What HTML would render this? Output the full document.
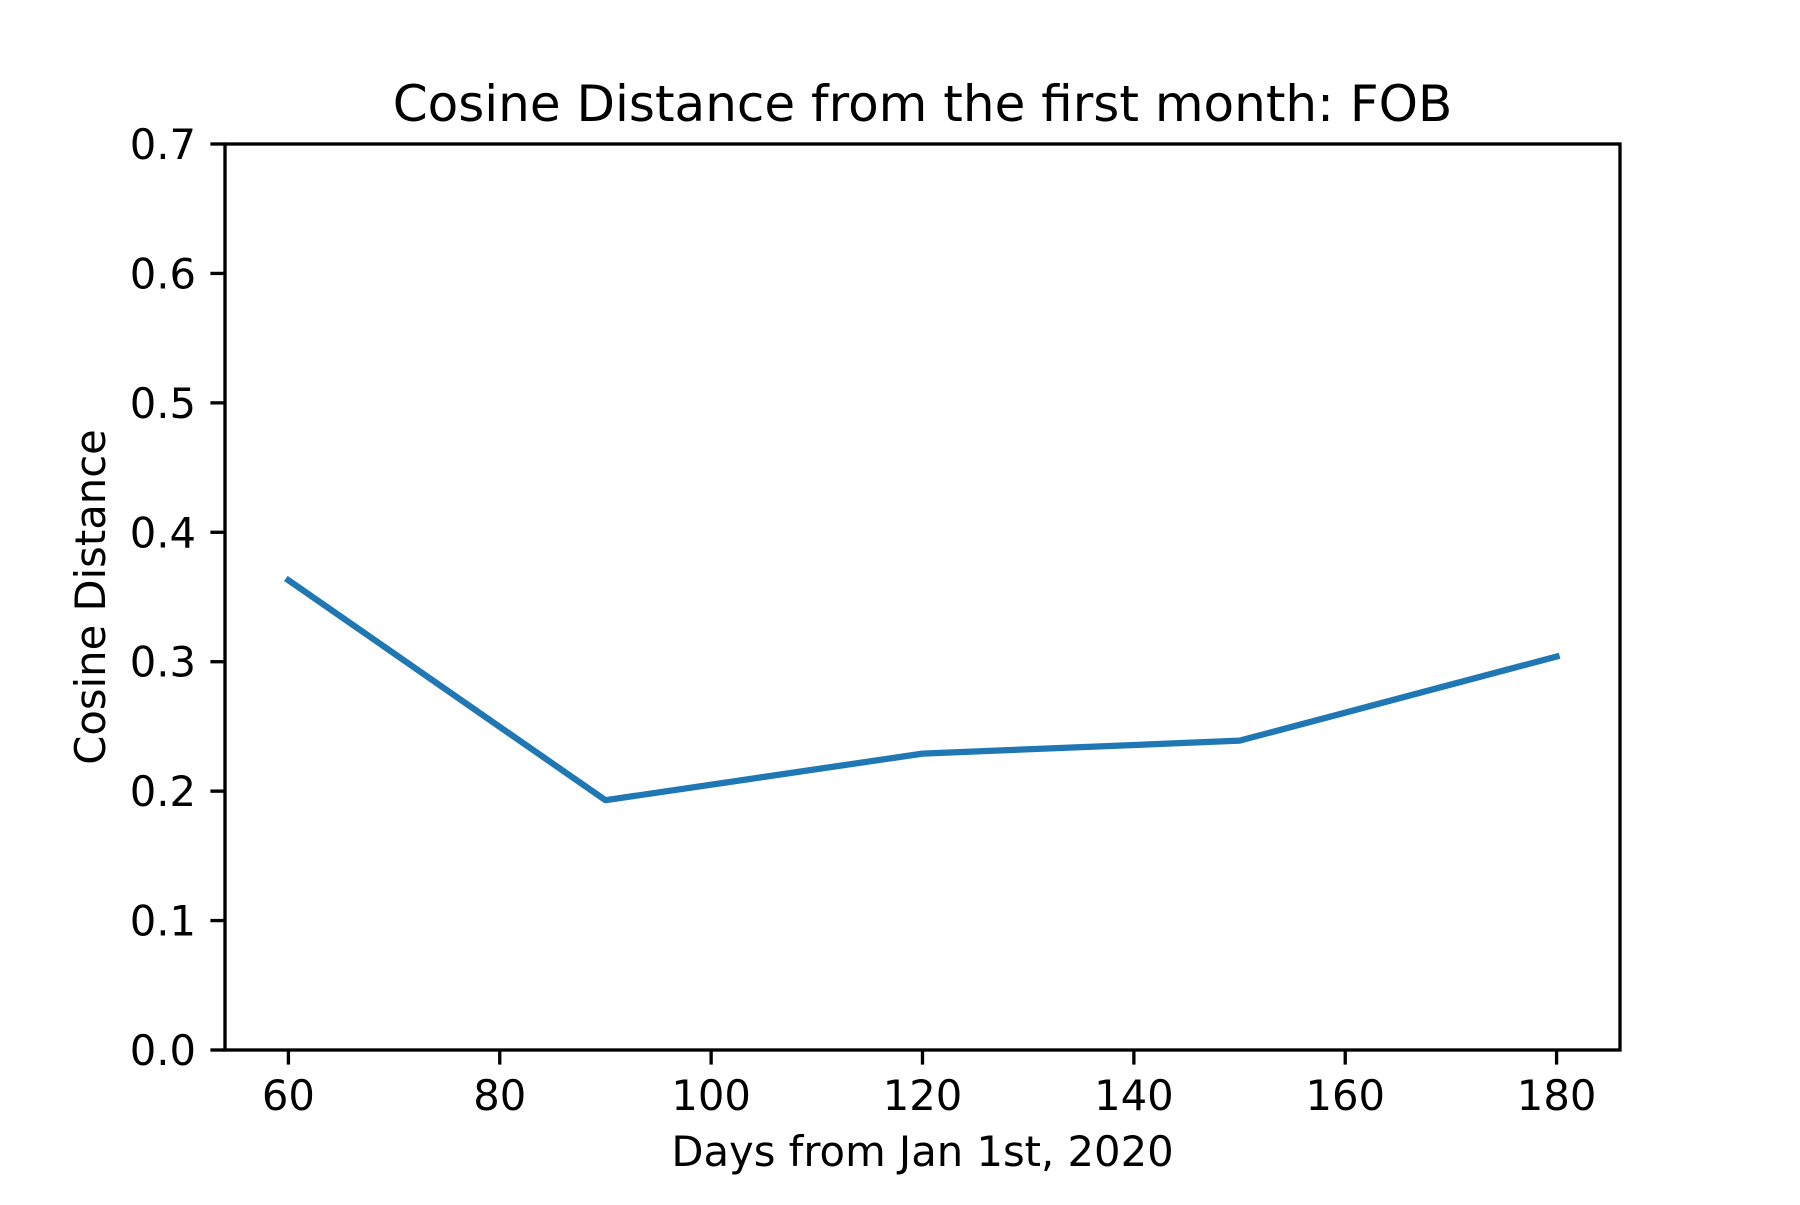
<!DOCTYPE html>
<html><head><meta charset="utf-8"><style>
html,body{margin:0;padding:0;background:#fff;}
svg text{font-family:"DejaVu Sans","Liberation Sans",sans-serif;fill:#000;}
</style></head><body>
<svg id="chart" width="1800" height="1200" viewBox="0 0 1800 1200" xmlns="http://www.w3.org/2000/svg">
<rect width="1800" height="1200" fill="#fff"/>
<g id="g"></g>
</svg>
<script>
const days = [60, 90, 120, 150, 180];
const distances = [0.363, 0.193, 0.229, 0.239, 0.304];
const xTicks = [60, 80, 100, 120, 140, 160, 180];
const yTicks = [0.0, 0.1, 0.2, 0.3, 0.4, 0.5, 0.6, 0.7];
const titleText = "Cosine Distance from the first month: FOB";
const xLabelText = "Days from Jan 1st, 2020";
const yLabelText = "Cosine Distance";

const L=225,R=1620,T=144,B=1050;
const xMin=54,xMax=186,yMin=0,yMax=0.7;
const xs=v=>L+(v-xMin)/(xMax-xMin)*(R-L);
const ys=v=>B-(v-yMin)/(yMax-yMin)*(B-T);
const NS="http://www.w3.org/2000/svg";
const g=document.getElementById('g');
function mk(tag,attrs,txt){const e=document.createElementNS(NS,tag);for(const k in attrs)e.setAttribute(k,attrs[k]);if(txt!==undefined)e.textContent=txt;g.appendChild(e);return e;}

const pts=days.map((d,i)=>xs(d)+','+ys(distances[i])).join(' ');
const line=mk('polyline',{points:pts,fill:'none',stroke:'#1f77b4','stroke-width':6.25,'stroke-linejoin':'round','stroke-linecap':'square'});



const frame=mk('rect',{x:L,y:T,width:R-L,height:B-T,fill:'none',stroke:'#000','stroke-width':3.33});



xTicks.forEach(v=>{
  const x=xs(v);
  const t=mk('line',{x1:x,x2:x,y1:B,y2:B+14.6,stroke:'#000','stroke-width':3.33});
  
  
  const l=mk('text',{x:x,y:B+60,'font-size':41.7,'text-anchor':'middle'},String(v));
  
  
});
yTicks.forEach(v=>{
  const y=ys(v);
  const t=mk('line',{x1:L-14.6,x2:L,y1:y,y2:y,stroke:'#000','stroke-width':3.33});
  
  
  const l=mk('text',{x:L-29,y:y+15,'font-size':41.7,'text-anchor':'end'},v.toFixed(1));
  
  
});
const ti=mk('text',{x:(L+R)/2,y:121,'font-size':50,'text-anchor':'middle'},titleText);


const xl=mk('text',{x:(L+R)/2,y:1166,'font-size':41.7,'text-anchor':'middle'},xLabelText);


const yl=mk('text',{x:0,y:0,'font-size':41.7,'text-anchor':'middle',transform:`translate(105,${(T+B)/2}) rotate(-90)`},yLabelText);


</script>
</body></html>
